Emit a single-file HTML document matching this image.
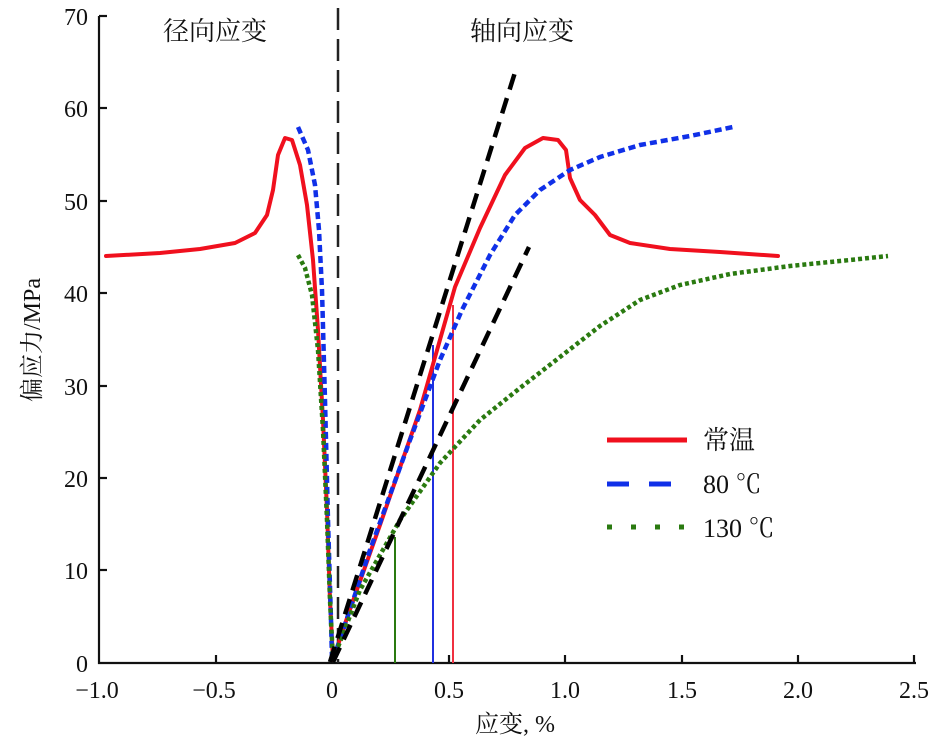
<!DOCTYPE html>
<html><head><meta charset="utf-8"><style>
html,body{margin:0;padding:0;background:#fff;}
svg{display:block;}
text{font-family:"Liberation Serif","Noto Serif CJK SC",serif;fill:#111;}
</style></head><body>
<svg width="945" height="742" viewBox="0 0 945 742" xmlns="http://www.w3.org/2000/svg">
<!-- axes -->
<g stroke="#111" stroke-width="2.2" fill="none">
<line x1="99" y1="16" x2="99" y2="664"/>
<line x1="98" y1="663" x2="916" y2="663"/>
<line x1="99" y1="16" x2="107" y2="16"/>
<line x1="99" y1="108" x2="107" y2="108"/>
<line x1="99" y1="201" x2="107" y2="201"/>
<line x1="99" y1="293" x2="107" y2="293"/>
<line x1="99" y1="386" x2="107" y2="386"/>
<line x1="99" y1="478" x2="107" y2="478"/>
<line x1="99" y1="570" x2="107" y2="570"/>
<line x1="216" y1="663" x2="216" y2="655"/>
<line x1="332" y1="663" x2="332" y2="655"/>
<line x1="449" y1="663" x2="449" y2="655"/>
<line x1="565" y1="663" x2="565" y2="655"/>
<line x1="682" y1="663" x2="682" y2="655"/>
<line x1="798" y1="663" x2="798" y2="655"/>
<line x1="914" y1="663" x2="914" y2="655"/>
</g>
<g font-size="24" text-anchor="end">
<text x="88" y="672">0</text><text x="88" y="579">10</text><text x="88" y="487">20</text>
<text x="88" y="395">30</text><text x="88" y="302">40</text><text x="88" y="210">50</text>
<text x="88" y="117">60</text><text x="88" y="25">70</text>
</g>
<g font-size="24" text-anchor="middle">
<text x="97" y="698">−1.0</text><text x="214" y="698">−0.5</text><text x="332" y="698">0</text>
<text x="449" y="698">0.5</text><text x="565" y="698">1.0</text><text x="682" y="698">1.5</text>
<text x="798" y="698">2.0</text><text x="914" y="698">2.5</text>
</g>
<text x="515" y="732" font-size="24" text-anchor="middle">应变, %</text>
<text transform="translate(40,340) rotate(-90)" font-size="24" text-anchor="middle">偏应力/MPa</text>
<text x="215" y="40" font-size="26" text-anchor="middle">径向应变</text>
<text x="522" y="40" font-size="26" text-anchor="middle">轴向应变</text>
<!-- vertical dashed -->
<line x1="338" y1="8" x2="338" y2="663" stroke="#222" stroke-width="2.5" stroke-dasharray="22,9"/>
<!-- vertical thin lines -->
<line x1="395" y1="663" x2="395" y2="537" stroke="#2a7a10" stroke-width="2"/>
<line x1="433" y1="663" x2="433" y2="345" stroke="#2030e0" stroke-width="2"/>
<line x1="453" y1="663" x2="453" y2="305" stroke="#f03040" stroke-width="2"/>
<!-- red -->
<g fill="none" stroke="#f0101e" stroke-width="4" stroke-linejoin="round" stroke-linecap="round">
<path d="M106,256 L160,253 L200,249 L235,243 L255,233 L267,215 L273,190 L278,155 L285,138 L292,140 L300,165 L307,205 L313,260 L318,330 L323,420 L327,510 L330,600 L333,660"/>
<path d="M333,660 L348,615 L380,525 L420,410 L455,287 L480,228 L505,175 L525,148 L543,138 L558,140 L566,150 L570,178 L580,200 L595,215 L610,235 L630,243 L670,249 L720,252 L778,256"/>
</g>
<!-- blue dotted -->
<g fill="none" stroke="#1030e8" stroke-width="4.5" stroke-dasharray="7,4" stroke-linecap="butt">
<path d="M298,127 L308,150 L315,185 L319,230 L322,290 L325,400 L328,520 L331,620 L332,660"/>
<path d="M333,660 L370,550 L410,440 L440,360 L462,310 L490,255 L515,215 L540,190 L570,170 L600,157 L640,145 L690,136 L733,127"/>
</g>
<!-- green dotted -->
<g fill="none" stroke="#2a7a10" stroke-width="4.5" stroke-dasharray="4,3" stroke-linecap="butt">
<path d="M298,255 L305,268 L312,295 L318,350 L323,430 L327,520 L330,600 L333,660"/>
<path d="M333,660 L360,590 L400,520 L440,463 L480,420 L520,388 L560,357 L600,326 L640,300 L680,285 L730,274 L790,266 L850,260 L888,256"/>
</g>
<!-- black dashed tangents -->
<g fill="none" stroke="#000" stroke-width="4.5" stroke-dasharray="16,9">
<line x1="330" y1="662" x2="517" y2="66"/>
<line x1="333" y1="662" x2="529" y2="247"/>
</g>
<!-- legend -->
<line x1="607" y1="440" x2="687" y2="440" stroke="#f0101e" stroke-width="5"/>
<line x1="607" y1="484" x2="687" y2="484" stroke="#1030e8" stroke-width="5" stroke-dasharray="22,20"/>
<line x1="607" y1="527" x2="687" y2="527" stroke="#2a7a10" stroke-width="5" stroke-dasharray="5,19"/>
<g font-size="26">
<text x="703" y="449">常温</text>
<text x="703" y="493">80 ℃</text>
<text x="703" y="537">130 ℃</text>
</g>
</svg>
</body></html>
